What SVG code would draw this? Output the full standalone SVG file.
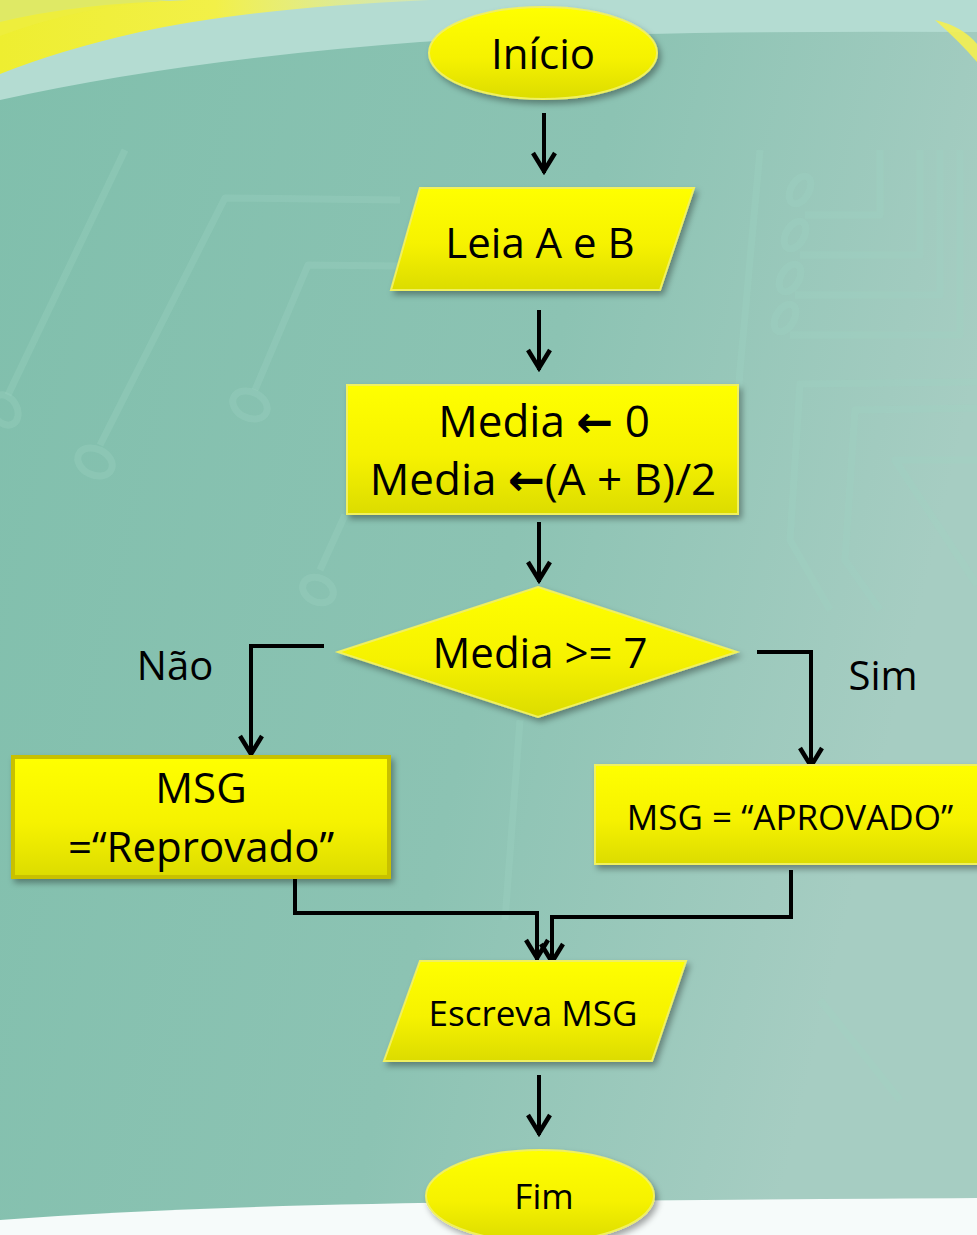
<svg xmlns="http://www.w3.org/2000/svg" width="977" height="1235" viewBox="0 0 977 1235">
  <defs>
    <linearGradient id="bg" x1="0" y1="0" x2="1" y2="0.3">
      <stop offset="0" stop-color="#80bfac"/>
      <stop offset="0.6" stop-color="#8cc3b3"/>
      <stop offset="1" stop-color="#a6cdc2"/>
    </linearGradient>
    <linearGradient id="fillY" x1="0" y1="0" x2="0" y2="1">
      <stop offset="0" stop-color="#ffff00"/>
      <stop offset="0.55" stop-color="#f6f200"/>
      <stop offset="1" stop-color="#dcdc00"/>
    </linearGradient>
    <linearGradient id="swoosh" x1="0" y1="0" x2="1" y2="0">
      <stop offset="0" stop-color="#eeee30"/>
      <stop offset="0.5" stop-color="#f2f048"/>
      <stop offset="1" stop-color="#f6f490" stop-opacity="0.4"/>
    </linearGradient>
    <filter id="shadow" x="-10%" y="-10%" width="130%" height="130%">
      <feDropShadow dx="3" dy="4" stdDeviation="3" flood-color="#000" flood-opacity="0.35"/>
    </filter>
    <!-- open chevron head, drawn along +x so orient="auto" follows the line -->
    <marker id="arrow" viewBox="0 0 24 26" refX="22" refY="13" markerWidth="24" markerHeight="26" markerUnits="userSpaceOnUse" orient="auto">
      <path d="M2,2 L20,13 L2,24" fill="none" stroke="#000" stroke-width="4.5" stroke-linejoin="miter" stroke-miterlimit="10"/>
    </marker>
    <style>
      .shape { fill: url(#fillY); stroke: #f0f060; stroke-width: 2; filter: url(#shadow); }
      .lbl { font-family: "Open Sans", Lato, "Liberation Sans", sans-serif; fill: #000; text-anchor: middle; }
      .sym { font-family: "DejaVu Sans", sans-serif; }
      .edge { fill: none; stroke: #000; stroke-width: 4; marker-end: url(#arrow); }
      .trace { fill: none; stroke: #9fd3c3; stroke-width: 7; opacity: 0.3; stroke-linejoin: round; }
      .pad { fill: none; stroke: #9fd3c3; stroke-width: 7; opacity: 0.3; }
    </style>
  </defs>

  <!-- backdrop -->
  <rect x="0" y="0" width="977" height="1235" fill="url(#bg)"/>
  <path d="M0,0 H977 V32 Q640,30 420,42 Q180,60 0,100 Z" fill="#b4dcd2"/>
  <path d="M0,22 Q110,-5 300,0 L430,0 Q250,8 140,32 Q60,50 0,74 Z" fill="url(#swoosh)"/>
  <path d="M0,36 Q80,6 170,0 H0 Z" fill="#eeee40" opacity="0.75"/>
  <path d="M935,20 Q962,26 977,44 V62 Q960,42 935,20 Z" fill="#f4f050" opacity="0.9"/>

  <!-- circuit traces -->
  <g>
    <path class="trace" d="M125,150 L8,395"/>
    <ellipse class="pad" cx="5" cy="410" rx="12" ry="16" transform="rotate(-30 5 410)"/>
    <path class="trace" d="M400,200 L225,198 L100,445"/>
    <ellipse class="pad" cx="95" cy="462" rx="18" ry="13" transform="rotate(25 95 462)"/>
    <path class="trace" d="M400,266 L308,265 L255,390"/>
    <ellipse class="pad" cx="250" cy="405" rx="18" ry="13" transform="rotate(25 250 405)"/>
    <path class="trace" d="M345,515 L320,570"/>
    <ellipse class="pad" cx="318" cy="590" rx="16" ry="12" transform="rotate(25 318 590)"/>
    <path class="trace" d="M760,150 L740,370 L735,450"/>
    <path class="trace" d="M805,215 L880,215 L880,150"/>
    <path class="trace" d="M800,255 L920,255 L920,150"/>
    <path class="trace" d="M795,295 L940,295 L940,150"/>
    <path class="trace" d="M790,335 L960,335 L960,150"/>
    <ellipse class="pad" cx="800" cy="190" rx="9" ry="15" transform="rotate(30 800 190)"/>
    <ellipse class="pad" cx="795" cy="235" rx="9" ry="15" transform="rotate(30 795 235)"/>
    <ellipse class="pad" cx="790" cy="278" rx="9" ry="15" transform="rotate(30 790 278)"/>
    <ellipse class="pad" cx="785" cy="318" rx="9" ry="15" transform="rotate(30 785 318)"/>
    <path class="trace" d="M977,382 L800,384 L790,540 L830,610"/>
    <path class="trace" d="M977,408 L855,410 L845,560 L880,610"/>
    <path class="trace" d="M977,460 L895,460 L977,585"/>
    <path class="trace" d="M520,720 L505,920"/>
    <path class="trace" d="M820,1000 L900,1100"/>
  </g>
  <path d="M0,1220 Q200,1205 500,1202 T977,1198 V1235 H0 Z" fill="#f6fbfa"/>

  <!-- connectors -->
  <g id="connectors">
    <path class="edge" d="M544,113 V173"/>
    <path class="edge" d="M539,310 V370"/>
    <path class="edge" d="M539,522 V582"/>
    <path class="edge" d="M324,646 H251 V756"/>
    <path class="edge" d="M757,652 H811 V768"/>
    <path class="edge" d="M295,878 V913 H537 V960"/>
    <path class="edge" d="M791,870 V917 H552 V964"/>
    <path class="edge" d="M539,1075 V1135"/>
  </g>

  <!-- nodes -->
  <g id="inicio">
    <ellipse class="shape" cx="543" cy="53" rx="114" ry="46"/>
    <text class="lbl" x="543" y="69" font-size="42">Início</text>
  </g>

  <g id="leia">
    <polygon class="shape" points="420,188 694,188 660,290 391,290"/>
    <text class="lbl" x="540" y="258" font-size="42">Leia A e B</text>
  </g>

  <g id="media">
    <rect class="shape" x="347" y="385" width="391" height="129"/>
    <text class="lbl" x="544" y="437" font-size="44">Media <tspan class="sym" font-weight="bold">←</tspan> 0</text>
    <text class="lbl" x="543" y="495" font-size="44">Media <tspan class="sym" font-weight="bold">←</tspan>(A + B)/2</text>
  </g>

  <g id="decisao">
    <polygon class="shape" points="538,587 737,652 538,717 338,652"/>
    <text class="lbl" x="540" y="668" font-size="42">Media &gt;= 7</text>
  </g>

  <text class="lbl" x="175" y="680" font-size="40">Não</text>
  <text class="lbl" x="883" y="690" font-size="40">Sim</text>

  <g id="reprovado">
    <rect x="13" y="757" width="376" height="120" fill="url(#fillY)" stroke="#c8c000" stroke-width="4" filter="url(#shadow)"/>
    <text class="lbl" x="201" y="803" font-size="42">MSG</text>
    <text class="lbl" x="201" y="862" font-size="42">=“Reprovado”</text>
  </g>

  <g id="aprovado">
    <rect class="shape" x="595" y="765" width="390" height="99"/>
    <text class="lbl" x="790" y="830" font-size="35">MSG = “APROVADO”</text>
  </g>

  <g id="escreva">
    <polygon class="shape" points="420,961 686,961 652,1061 384,1061"/>
    <text class="lbl" x="533" y="1026" font-size="35">Escreva MSG</text>
  </g>

  <g id="fim">
    <ellipse class="shape" cx="540" cy="1196" rx="114" ry="46"/>
    <text class="lbl" x="544" y="1209" font-size="35">Fim</text>
  </g>
</svg>
